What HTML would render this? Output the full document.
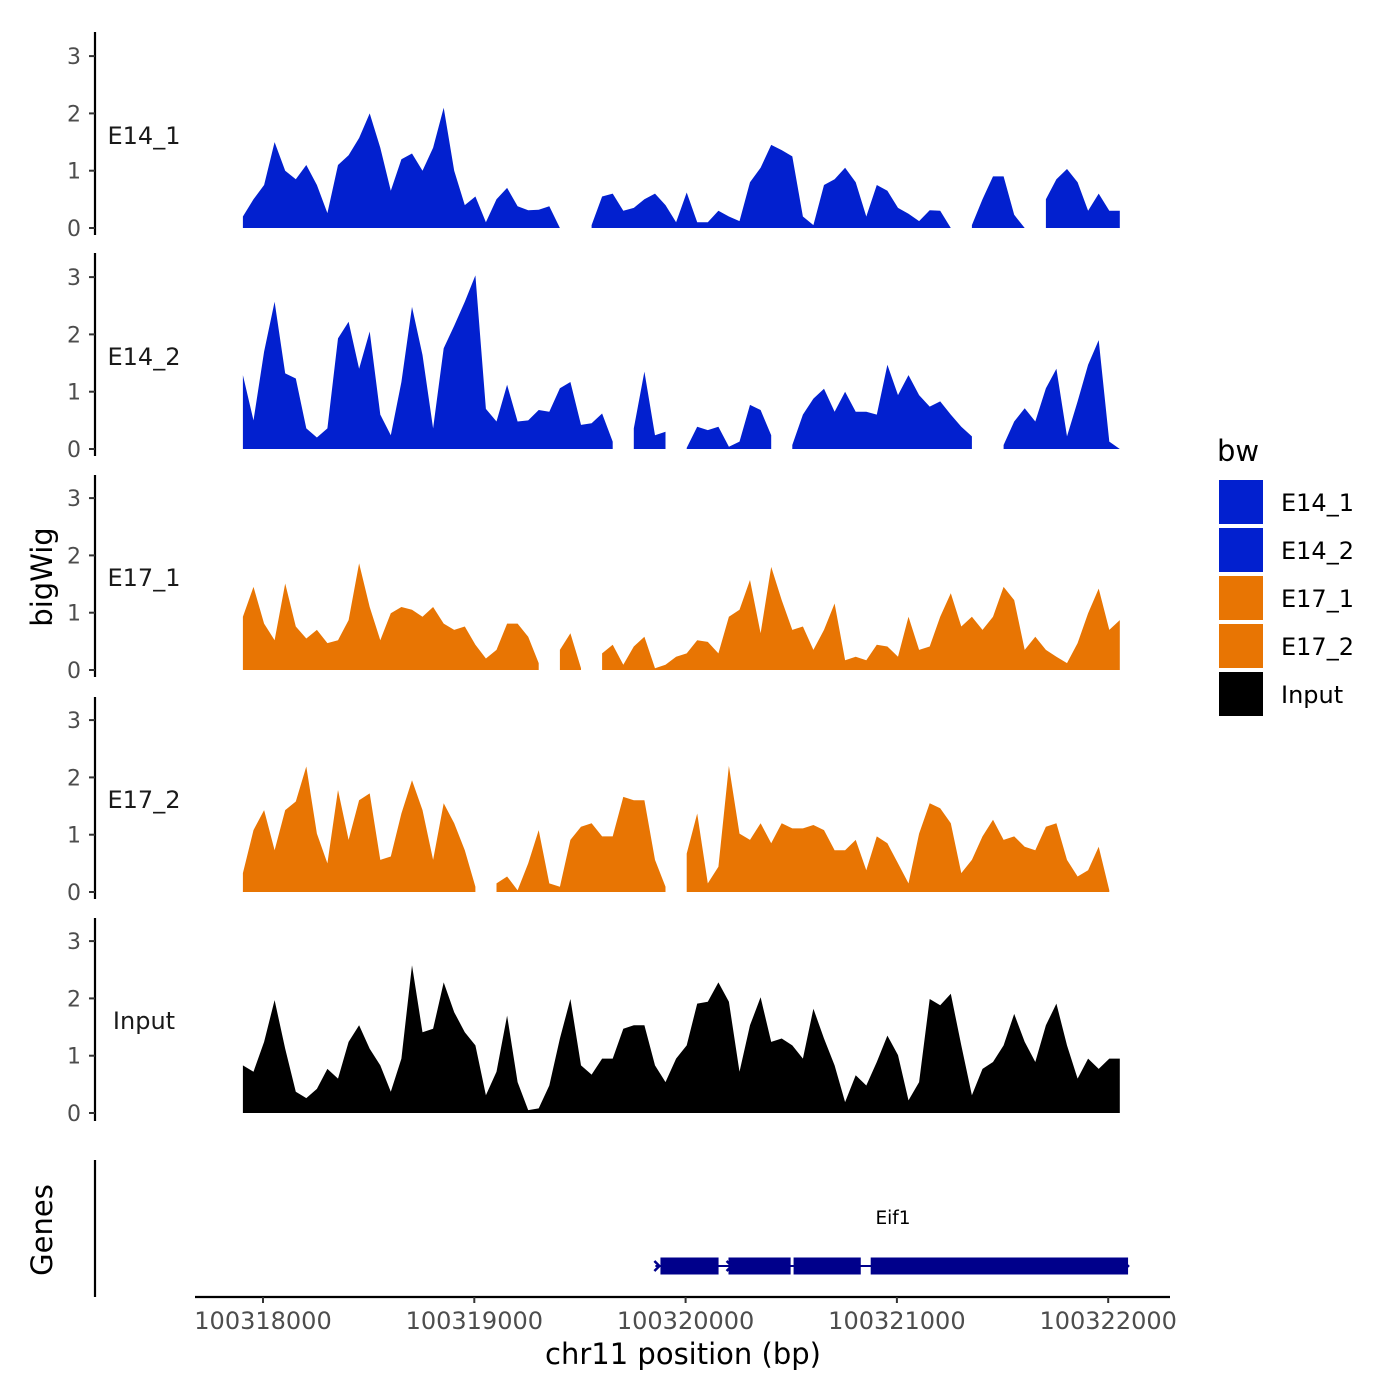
<!DOCTYPE html>
<html><head><meta charset="utf-8"><style>
html,body{margin:0;padding:0;background:#fff;}
svg{display:block;font-family:"DejaVu Sans","Liberation Sans",sans-serif;}
</style></head><body>
<svg id="chart" width="1400" height="1400" viewBox="0 0 1400 1400" xmlns="http://www.w3.org/2000/svg">
<rect width="1400" height="1400" fill="#fff"/>
<g id="tracks"></g>
<g id="genes"></g>
<g id="xaxis"></g>
<text x="52" y="577" font-size="29" text-anchor="middle" transform="rotate(-90 52 577)" fill="#000">bigWig</text>
<text x="52" y="1230" font-size="29" text-anchor="middle" transform="rotate(-90 52 1230)" fill="#000">Genes</text>
<text x="683" y="1364" font-size="29" text-anchor="middle" fill="#000">chr11 position (bp)</text>
<g id="legend">
<text x="1217" y="461" font-size="29" fill="#000">bw</text>
</g>
</svg>
<script>
const trackNames = ["E14_1","E14_2","E17_1","E17_2","Input"];
const trackColors = ["#0220CF","#0220CF","#E87503","#E87503","#000000"];
const binStart = 100317905;
const binStep = 50;
const e14_1 = [0.2,0.5,0.75,1.5,1.0,0.85,1.1,0.75,0.26,1.1,1.27,1.57,2.0,1.4,0.65,1.2,1.3,1.0,1.4,2.1,1.0,0.4,0.55,0.1,0.5,0.7,0.38,0.31,0.32,0.38,0,null,null,0.05,0.55,0.6,0.3,0.35,0.5,0.6,0.4,0.1,0.62,0.1,0.1,0.3,0.2,0.12,0.8,1.05,1.45,1.36,1.25,0.2,0.05,0.75,0.85,1.05,0.8,0.2,0.75,0.65,0.35,0.25,0.12,0.31,0.3,0,null,0.05,0.5,0.9,0.9,0.23,0,null,0.5,0.85,1.03,0.8,0.3,0.6,0.3,0.3];
const e14_2 = [1.29,0.5,1.7,2.57,1.32,1.23,0.36,0.2,0.36,1.93,2.22,1.4,2.05,0.6,0.24,1.17,2.48,1.64,0.36,1.76,2.15,2.57,3.03,0.7,0.48,1.12,0.48,0.5,0.68,0.65,1.06,1.17,0.42,0.45,0.62,0.13,null,0.36,1.35,0.24,0.3,null,0.02,0.39,0.33,0.39,0.04,0.13,0.77,0.68,0.24,null,0.07,0.6,0.88,1.05,0.65,1.0,0.65,0.65,0.6,1.47,0.94,1.29,0.94,0.74,0.83,0.6,0.39,0.22,null,null,0.07,0.48,0.71,0.48,1.06,1.4,0.22,0.83,1.47,1.9,0.13,0];
const e17_1 = [0.93,1.45,0.81,0.52,1.51,0.76,0.55,0.7,0.47,0.52,0.87,1.86,1.1,0.52,0.99,1.1,1.05,0.93,1.1,0.81,0.7,0.76,0.44,0.2,0.35,0.81,0.81,0.58,0.12,null,0.35,0.64,0.03,null,0.29,0.44,0.09,0.41,0.58,0.03,0.09,0.23,0.29,0.52,0.49,0.29,0.93,1.05,1.57,0.64,1.8,1.22,0.7,0.76,0.35,0.7,1.16,0.17,0.23,0.17,0.44,0.41,0.23,0.93,0.35,0.41,0.93,1.34,0.76,0.93,0.7,0.93,1.45,1.22,0.35,0.58,0.35,0.23,0.12,0.47,0.99,1.42,0.7,0.87];
const e17_2 = [0.33,1.08,1.43,0.73,1.43,1.58,2.19,1.02,0.5,1.78,0.91,1.6,1.72,0.56,0.62,1.37,1.95,1.43,0.56,1.55,1.2,0.73,0.09,null,0.15,0.27,0.03,0.5,1.08,0.15,0.09,0.91,1.14,1.2,0.97,0.97,1.66,1.6,1.6,0.56,0.09,null,0.67,1.37,0.15,0.44,2.2,1.02,0.91,1.2,0.85,1.2,1.11,1.11,1.17,1.08,0.73,0.73,0.91,0.38,0.97,0.85,0.5,0.15,1.02,1.55,1.46,1.2,0.33,0.56,0.97,1.26,0.91,0.97,0.79,0.73,1.14,1.2,0.56,0.27,0.38,0.79,0.03,null];
const input = [0.83,0.72,1.24,1.97,1.12,0.37,0.26,0.42,0.77,0.6,1.24,1.53,1.12,0.83,0.37,0.95,2.58,1.41,1.47,2.28,1.76,1.41,1.18,0.31,0.72,1.7,0.54,0.05,0.08,0.48,1.3,1.99,0.83,0.67,0.95,0.95,1.47,1.53,1.53,0.83,0.54,0.95,1.18,1.91,1.94,2.28,1.94,0.72,1.53,2.02,1.24,1.3,1.18,0.95,1.82,1.3,0.83,0.19,0.66,0.48,0.89,1.35,1.01,0.22,0.54,1.99,1.88,2.08,1.18,0.31,0.77,0.89,1.18,1.73,1.24,0.89,1.53,1.91,1.18,0.6,0.95,0.77,0.95,0.95];
const trackData = [e14_1,e14_2,e17_1,e17_2,input];
const yTicks = [0,1,2,3];
const xTicks = [100318000,100319000,100320000,100321000,100322000];
const geneName = "Eif1";
const geneStart = 100319857;
const geneEnd = 100322094;
const exonStarts = [100319881,100320203,100320511,100320876];
const exonEnds = [100320156,100320497,100320829,100322094];

const NS = "http://www.w3.org/2000/svg";
function mk(tag, attrs, parent){const e=document.createElementNS(NS,tag);for(const k in attrs)e.setAttribute(k,attrs[k]);parent.appendChild(e);return e;}
const xScale = bp => 263 + (bp - 100318000) * 0.2113;
const baselines = [228,449,670,892,1113];
const unit = 57.3;
const axisTops = [32,253,475,697,918];
const axisBots = [235,456,677,899,1121];
const tracksG = document.getElementById('tracks');

trackData.forEach((vals, t) => {
  const g = mk('g', {}, tracksG);
  
  
  const base = baselines[t];
  const ys = v => base - v * unit;
  let seg = [];
  const flush = () => {
    if (seg.length > 1) {
      let d = 'M' + seg[0][0].toFixed(1) + ',' + base;
      seg.forEach(p => d += 'L' + p[0].toFixed(1) + ',' + ys(p[1]).toFixed(1));
      d += 'L' + seg[seg.length-1][0].toFixed(1) + ',' + base + 'Z';
      const p = mk('path', {d: d, fill: trackColors[t]}, g);
      
      
    }
    seg = [];
  };
  vals.forEach((v, i) => {
    const x = xScale(binStart + i * binStep);
    if (v === null) flush(); else seg.push([x, v]);
  });
  flush();
  const ax = mk('line', {x1:95, x2:95, y1:axisTops[t], y2:axisBots[t], stroke:'#000', 'stroke-width':2.2}, g);
  
  
  yTicks.forEach(tv => {
    const y = ys(tv);
    mk('line', {x1:89, x2:95, y1:y, y2:y, stroke:'#333', 'stroke-width':2}, g);
    const tx = mk('text', {x:81, y:y+8, 'font-size':22, 'text-anchor':'end', fill:'#4d4d4d'}, g);
    
    
    tx.textContent = tv;
  });
  const lab = mk('text', {x:144, y:base - 1.62*unit + 9, 'font-size':24, 'text-anchor':'middle', fill:'#1a1a1a'}, g);
  
  
  lab.textContent = trackNames[t];
});

const gG = document.getElementById('genes');
const gl = mk('line', {x1:95, x2:95, y1:1160, y2:1297, stroke:'#000', 'stroke-width':2.2}, gG);


const gy = 1266;
const intron = mk('line', {x1:xScale(geneStart), x2:xScale(geneEnd), y1:gy, y2:gy, stroke:'#00008B', 'stroke-width':2}, gG);


exonStarts.forEach((s, i) => {
  const r = mk('rect', {x:xScale(s), y:gy-8.5, width:xScale(exonEnds[i])-xScale(s), height:17, fill:'#00008B'}, gG);
  
  
});
[xScale(geneStart)+4, xScale(exonEnds[0])+13, xScale(exonEnds[2])+16, xScale(geneEnd)].forEach(x => {
  const a = mk('path', {d:`M${x-5},${gy-5}L${x},${gy}L${x-5},${gy+5}`, stroke:'#00008B', 'stroke-width':2.5, fill:'none'}, gG);
  
  
});
const gt = mk('text', {x:893, y:1224, 'font-size':18.5, 'text-anchor':'middle', fill:'#000'}, gG);


gt.textContent = geneName;

const xG = document.getElementById('xaxis');
const xl = mk('line', {x1:195, x2:1170, y1:1297, y2:1297, stroke:'#000', 'stroke-width':2.2}, xG);


xTicks.forEach(v => {
  const x = xScale(v);
  mk('line', {x1:x, x2:x, y1:1297, y2:1303, stroke:'#333', 'stroke-width':2}, xG);
  const t = mk('text', {x:x, y:1329, 'font-size':24, 'text-anchor':'middle', fill:'#4d4d4d'}, xG);
  
  
  t.textContent = v;
});

const lG = document.getElementById('legend');
trackNames.forEach((n, i) => {
  const y = 480 + i * 48;
  const r = mk('rect', {x:1219, y:y, width:44, height:44, fill:trackColors[i]}, lG);
  
  
  const t = mk('text', {x:1281, y:y+31, 'font-size':24, fill:'#000'}, lG);
  
  
  t.textContent = n;
});
</script>
</body></html>
